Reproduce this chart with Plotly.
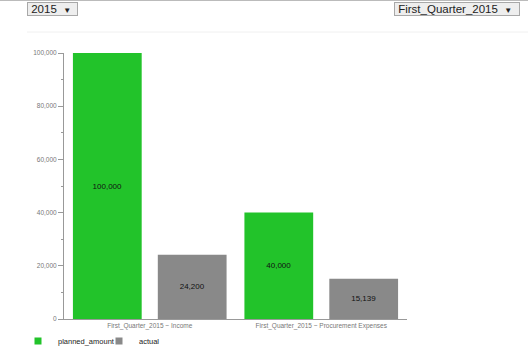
import plotly.graph_objects as go

categories = ["First_Quarter_2015 ~ Income", "First_Quarter_2015 ~ Procurement Expenses"]
planned_amount = [100000, 40000]
actual = [24200, 15139]
year_label = "2015"
quarter_label = "First_Quarter_2015"

GREEN = "#22c32a"
GRAY = "#898989"
FONT = "Liberation Sans, Arial, sans-serif"

W, H = 528, 356
L, R, T, B = 64, 121, 53, 37
pw, ph = W - L - R, H - T - B

def px_x(x):
    return (x - L) / pw

def px_y(y):
    return 1 - (y - T) / ph

fig = go.Figure()
fig.add_trace(go.Bar(
    x=categories, y=planned_amount, name="planned_amount",
    marker=dict(color=GREEN, line=dict(width=0)),
    text=[f"{v:,}" for v in planned_amount], textposition="inside",
    insidetextanchor="middle", textfont=dict(color="#111", size=8, family=FONT),
    showlegend=False, legendgroup="p", hoverinfo="x+y",
))
fig.add_trace(go.Bar(
    x=categories, y=actual, name="actual",
    marker=dict(color=GRAY, line=dict(width=0)),
    text=[f"{v:,}" for v in actual], textposition="inside",
    insidetextanchor="middle", textfont=dict(color="#111", size=8, family=FONT),
    showlegend=False, legendgroup="a", hoverinfo="x+y",
))
for nm, col, grp in [("planned_amount", GREEN, "p"), ("actual", GRAY, "a")]:
    fig.add_trace(go.Scatter(
        x=[None], y=[None], mode="markers", name=nm, legendgroup=grp,
        marker=dict(symbol="square", size=7, color=col), hoverinfo="skip",
    ))

dropdown_style = dict(xref="paper", yref="paper", showarrow=False,
                      xanchor="left", yanchor="top",
                      font=dict(size=11.5, color="#222", family=FONT),
                      bgcolor="#eeeeee", bordercolor="#a8a8a8", borderwidth=1, borderpad=0)
arrow = "<span style='font-size:8px'>▼</span>"

fig.update_layout(
    width=W, height=H,
    margin=dict(l=L, r=R, t=T, b=B, pad=0, autoexpand=False),
    paper_bgcolor="white", plot_bgcolor="white",
    font=dict(family=FONT, size=8, color="#333"),
    barmode="group", bargap=0.01, bargroupgap=0.19,
    showlegend=True,
    legend=dict(orientation="h", xref="container", yref="container",
                x=18 / W, y=1 - 341 / H, xanchor="left", yanchor="middle",
                font=dict(size=7.5, color="#222", family=FONT),
                itemwidth=30, entrywidth=36, tracegroupgap=0, bgcolor="rgba(0,0,0,0)"),
    xaxis=dict(type="category", showline=True, linecolor="#999", linewidth=1,
               ticks="", showgrid=False, tickfont=dict(size=6.5, color="#777"),
               zeroline=False, fixedrange=True),
    yaxis=dict(range=[0, 100000], showline=True, linecolor="#999", linewidth=1,
               ticks="outside", ticklen=5, tickcolor="#999", tickwidth=1,
               dtick=20000, tickformat=",d", showgrid=False, zeroline=False,
               tickfont=dict(size=6.5, color="#777"), fixedrange=True,
               minor=dict(dtick=10000, ticks="outside", ticklen=2, tickcolor="#999", showgrid=False)),
    annotations=[
        dict(text=f" {year_label}  {arrow}  ", x=px_x(27), y=px_y(2), **dropdown_style),
        dict(text=f" {quarter_label}  {arrow}  ", x=px_x(394), y=px_y(2), **dropdown_style),
    ],
    shapes=[
        dict(type="line", xref="paper", yref="paper", x0=px_x(0), x1=px_x(W), y0=px_y(0.5), y1=px_y(0.5),
             line=dict(color="#bbbbbb", width=1)),
        dict(type="line", xref="paper", yref="paper", x0=px_x(27), x1=px_x(W), y0=px_y(32), y1=px_y(32),
             line=dict(color="#f0f0f0", width=1)),
    ],
)

fig.write_html("out.html", config={"displayModeBar": False},
               post_script="document.body.style.margin='0';document.body.style.overflow='hidden';")
